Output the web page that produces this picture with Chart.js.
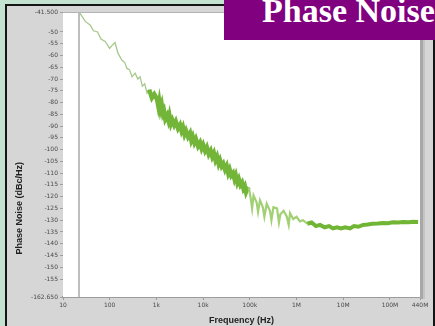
<!DOCTYPE html>
<html>
<head>
<meta charset="utf-8">
<script src="https://cdn.jsdelivr.net/npm/chart.js@4.4.1/dist/chart.umd.min.js"></script>
<style>
  html, body { margin: 0; padding: 0; }
  body { width: 435px; height: 326px; overflow: hidden; position: relative; background: #c3e2d0; }
  #panel { position: absolute; left: 5px; top: 4px; width: 426px; height: 330px; background: #d6d6d6; border: 2px solid #151515; }
  #wrap { position: absolute; left: 0; top: 0; width: 435px; height: 326px; }
  #title { position: absolute; left: 224px; top: 0; width: 211px; height: 40px; background: #800080; overflow: hidden; }
  #title span { position: absolute; left: 38px; top: -6px; white-space: nowrap; color: #fff; font: bold 34px/34px "Liberation Serif", "DejaVu Serif", serif; }
</style>
</head>
<body>
<div id="panel"></div>
<div id="wrap"><canvas id="c" width="435" height="326"></canvas></div>
<div id="title"><span>Phase Noise</span></div>
<script>
// ---- data ----
const frequencyHz = [23, 30, 38, 45, 55, 65, 80, 100, 115, 130, 150, 183, 210, 234, 265, 300, 350, 400, 446, 500, 560, 630, 700, 800, 900,
  1030, 1100, 1150, 1220, 1300, 1380, 1450, 1550, 1690, 1800, 1900, 2050, 2200, 2400, 2600, 2900, 3200, 3450, 3700, 4000, 4300, 4750, 5240, 5600, 6000, 6500, 7000, 7800, 8590,
  9300, 10000, 11000, 12000, 13200, 14500, 15700, 17000, 18400, 19860, 21500, 23000, 25000, 27000, 29500, 32000, 34500, 37000, 40000, 43700, 47000, 50000, 54000, 58000, 63000, 68000, 73000, 78000, 83000, 87100, 95000,
  105000, 112000, 120000, 140000, 150000, 165000, 190000, 205000, 230000, 270000, 290000, 320000, 382000, 420000, 450000, 530000, 620000, 680000, 726000, 850000,
  1000000, 1180000, 1380000, 1700000, 2100000, 2600000, 3180000, 4000000, 5000000, 6000000, 7360000, 9000000,
  11000000, 14000000, 17000000, 21000000, 26500000, 33000000, 42000000, 55000000, 71000000, 90000000,
  115000000, 150000000, 191000000, 250000000, 320000000, 400000000];
const phaseNoiseDbc = [-42, -45.5, -47, -49.5, -50, -53, -54, -57, -55.5, -54.5, -59, -62, -63, -65.5, -66, -69, -67.5, -70, -69, -73, -72, -76, -74.5, -78, -76.5,
  -78.5, -81.5, -79.5, -83, -81, -84.5, -83.5, -87, -85.5, -87.5, -85.5, -89, -87.5, -89.5, -88, -91, -89.5, -92, -90.5, -93.5, -92, -94.5, -93, -96, -94.5, -97, -95.5, -98.5, -97,
  -99.5, -98, -100.5, -99, -102, -100.5, -103, -101.5, -104.5, -103, -106, -104.5, -107, -106, -108.5, -107, -110, -108.5, -111, -110, -112.5, -111, -114, -112.5, -115, -114, -116.5, -115.5, -118, -117, -116,
  -121, -125, -119.5, -122.5, -126.5, -121.5, -124.5, -128.5, -123, -126, -130, -124.5, -125, -131, -127.5, -126, -128.5, -132, -127, -129.5,
  -128.5, -130.5, -130, -131.5, -131, -132.5, -132, -133, -132.5, -133.5, -133, -133.5,
  -133, -133.5, -132.5, -132.8, -132, -131.8, -131.5, -131.4, -131.2, -131.3,
  -130.9, -131, -130.8, -130.9, -130.7, -130.8];
const cursorHz = 22;
const xMin = 10, xMax = 440000000;
const yMin = -162.65, yMax = -41.5;
const xTickValues = [10, 100, 1000, 10000, 100000, 1000000, 10000000, 100000000, 440000000];
const xTickLabels = ['10', '100', '1k', '10k', '100k', '1M', '10M', '100M', '440M'];
const yTickValues = [-41.5, -50, -55, -60, -65, -70, -75, -80, -85, -90, -95, -100, -105, -110, -115, -120, -125, -130, -135, -140, -145, -150, -155, -162.65];
const yTickLabels = ['-41.500', '-50', '-55', '-60', '-65', '-70', '-75', '-80', '-85', '-90', '-95', '-100', '-105', '-110', '-115', '-120', '-125', '-130', '-135', '-140', '-145', '-150', '-155', '-162.650'];

const points = frequencyHz.map((f, i) => ({ x: f, y: phaseNoiseDbc[i] }));

const frame = {
  id: 'frame',
  beforeDatasetsDraw(chart) {
    const { ctx, chartArea: a } = chart;
    ctx.save();
    ctx.fillStyle = '#ffffff';
    ctx.fillRect(a.left, a.top, a.right - a.left, a.bottom - a.top);
    ctx.restore();
  },
  afterDatasetsDraw(chart) {
    const { ctx, chartArea: a } = chart;
    ctx.save();
    ctx.strokeStyle = '#b4b4b4'; ctx.lineWidth = 1;
    ctx.beginPath(); ctx.moveTo(a.left, a.top + 0.5); ctx.lineTo(a.right, a.top + 0.5); ctx.stroke();
    ctx.fillStyle = '#a8a8a8'; ctx.fillRect(a.right, a.top, 3, a.bottom - a.top + 2);
    ctx.fillStyle = '#c4c4c4'; ctx.fillRect(a.right + 3, a.top, 2, a.bottom - a.top + 2);
    ctx.restore();
  }
};

function segStyle(f) {
  if (f < 700) return { c: 'rgba(150,190,120,0.85)', w: 1.3 };
  if (f < 90000) return { c: '#72b538', w: 4.5 };
  if (f < 1500000) return { c: '#a2d074', w: 2.2 };
  return { c: '#70b534', w: 4 };
}

new Chart(document.getElementById('c'), {
  type: 'line',
  data: {
    datasets: [
      {
        label: 'Phase Noise',
        data: points,
        borderColor: '#74b63a',
        borderWidth: 3,
        pointRadius: 0,
        tension: 0,
        segment: {
          borderColor: ctx => segStyle(ctx.p0.parsed.x).c,
          borderWidth: ctx => segStyle(ctx.p0.parsed.x).w
        }
      },
      {
        label: 'Cursor',
        data: [{ x: cursorHz, y: yMax }, { x: cursorHz, y: yMin }],
        borderColor: '#a9a9a9',
        borderWidth: 1.5,
        pointRadius: 0
      }
    ]
  },
  options: {
    responsive: false,
    animation: false,
    events: [],
    layout: { padding: { left: 10, top: 12, right: 15, bottom: 0 } },
    plugins: { legend: { display: false }, tooltip: { enabled: false } },
    scales: {
      x: {
        type: 'logarithmic',
        min: xMin, max: xMax,
        afterBuildTicks: s => { s.ticks = xTickValues.map(v => ({ value: v })); },
        afterFit: s => { s.height = 29; },
        ticks: {
          autoSkip: false, maxRotation: 0, padding: 2,
          font: { family: 'DejaVu Sans', size: 6 }, color: '#4a4a4a',
          callback: (v, i) => xTickLabels[i]
        },
        grid: { display: true, drawOnChartArea: false, tickLength: 3, color: '#9a9a9a' },
        border: { display: true, color: '#9c9c9c', width: 2 },
        title: { display: true, text: 'Frequency (Hz)', color: '#222', padding: { top: 2, bottom: 0 },
          font: { family: 'Liberation Sans', size: 9, weight: 'bold' } }
      },
      y: {
        type: 'linear',
        min: yMin, max: yMax,
        afterBuildTicks: s => { s.ticks = yTickValues.map(v => ({ value: v })); },
        afterFit: s => { s.width = 53; },
        ticks: {
          autoSkip: false, padding: 2,
          font: { family: 'DejaVu Sans', size: 6 }, color: '#4a4a4a',
          callback: (v, i) => yTickLabels[i]
        },
        grid: { display: true, drawOnChartArea: false, tickLength: 3, color: '#a0a0a0' },
        border: { display: false },
        title: { display: true, align: 'start', text: '\u00a0'.repeat(17) + 'Phase Noise (dBc/Hz)', color: '#222', padding: { top: 4, bottom: 2 },
          font: { family: 'Liberation Sans', size: 9, weight: 'bold' } }
      }
    }
  },
  plugins: [frame]
});
</script>
</body>
</html>
